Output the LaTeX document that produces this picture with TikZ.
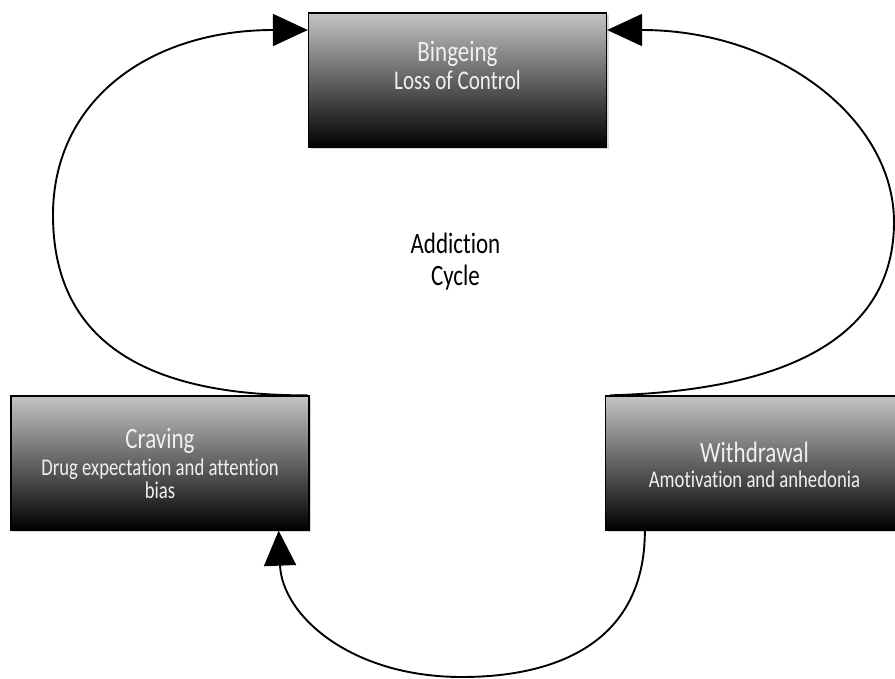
\documentclass[tikz,border=0pt]{standalone}
\usepackage{fontspec}
\setmainfont{Carlito}[FakeStretch=0.78,Ligatures=NoCommon]
\usetikzlibrary{arrows.meta,shadows,calc}
\begin{document}
\begin{tikzpicture}[x=1pt,y=-1pt,
  stagebox/.style={draw=black, line width=1.3pt, rectangle, inner sep=0pt,
    minimum width=298pt, minimum height=134pt,
    top color={rgb,255:red,196;green,196;blue,196}, bottom color=black,
    drop shadow={shadow xshift=2pt, shadow yshift=-2pt, opacity=0.3}},
  ttl/.style={text={rgb,255:red,240;green,240;blue,240}, inner sep=0pt, anchor=base,
    font=\fontsize{29.5}{30}\selectfont},
  sub/.style={text={rgb,255:red,240;green,240;blue,240}, inner sep=0pt, anchor=base,
    align=center, font=\fontsize{24}{23}\selectfont},
  cyc/.style={line width=1.9pt, -{Triangle[length=35pt,width=32pt]}}
]
\useasboundingbox (0,0) rectangle (895,678);
\fill[white] (0,0) rectangle (895,678);

% boxes
\node[stagebox] (binge) at (457.5,80) {};
\node[stagebox] (crave) at (160,463) {};
\node[stagebox] (withd) at (754.5,463) {};

% texts (base anchor = last line)
\node[ttl] (bingeT) at (457.5,61) {Bingeing};
\node[sub, font=\fontsize{27}{28}\selectfont] (bingeS) at (457.5,89) {Loss of Control};
\node[ttl] (craveT) at (160,448) {Craving};
\node[sub] (craveS) at (160,498) {Drug expectation and attention\\bias};
\node[ttl] (withdT) at (754.5,462) {Withdrawal};
\node[sub] (withdS) at (754.5,487) {Amotivation and anhedonia};
\node[inner sep=0pt, anchor=base, align=center, font=\fontsize{29.5}{32}\selectfont]
  (center) at (455.5,285) {Addiction\\Cycle};

% connectors
\coordinate (lStart) at ($(crave.north east)+(-2,0)$);
\coordinate (lEnd) at (binge.west |- 0,30);
\coordinate (rStart) at ($(withd.north west)+(5,0)$);
\coordinate (rEnd) at (binge.east |- 0,30);
\coordinate (bStart) at ($(withd.south west)+(40,0)$);
\coordinate (bEnd) at ($(crave.south east)+(-31,0)$);
\coordinate (cL) at (53,215);
\coordinate (cR) at (894,222);
\coordinate (cB) at (462,677);
\draw[cyc] (lStart)
  .. controls (130,396) and (53,330) .. (cL)
  .. controls (53,100) and (150,30) .. (lEnd);
\draw[cyc] (rStart)
  .. controls (800,390) and (894,330) .. (cR)
  .. controls (894,120) and (780,30) .. (rEnd);
\draw[cyc] (bStart)
  .. controls (645,640) and (560,677) .. (cB)
  .. controls (350,677) and (282,615) .. (bEnd);
\end{tikzpicture}
\end{document}
